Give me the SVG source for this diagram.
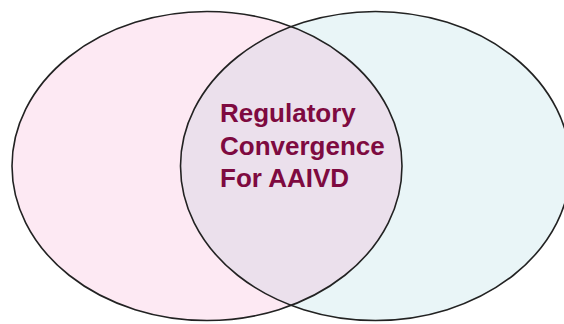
<svg xmlns="http://www.w3.org/2000/svg" width="564" height="324" viewBox="0 0 564 324">
<style>
.outline{fill:none;stroke:#222;stroke-width:1.6}
.lbl{font-family:"Liberation Sans",Arial,sans-serif;font-weight:bold;font-size:26px;fill:#7e0a40}
</style>
<defs>
<clipPath id="clipL"><ellipse cx="207" cy="166" rx="195" ry="154.5"/></clipPath>
</defs>
<rect width="564" height="324" fill="#ffffff"/>
<g id="left-set">
<ellipse cx="207" cy="166" rx="195" ry="154.5" fill="#fde9f3"/>
</g>
<g id="right-set">
<ellipse cx="375.5" cy="166" rx="195" ry="154.5" fill="#e9f5f7"/>
</g>
<g id="overlap">
<ellipse cx="375.5" cy="166" rx="195" ry="154.5" fill="#ebe0ec" clip-path="url(#clipL)"/>
<text class="lbl" x="220" y="122">Regulatory</text>
<text class="lbl" x="220" y="155">Convergence</text>
<text class="lbl" x="220" y="187">For AAIVD</text>
</g>
<g id="outlines">
<ellipse class="outline" cx="207" cy="166" rx="195" ry="154.5"/>
<ellipse class="outline" cx="375.5" cy="166" rx="195" ry="154.5"/>
</g>
</svg>
